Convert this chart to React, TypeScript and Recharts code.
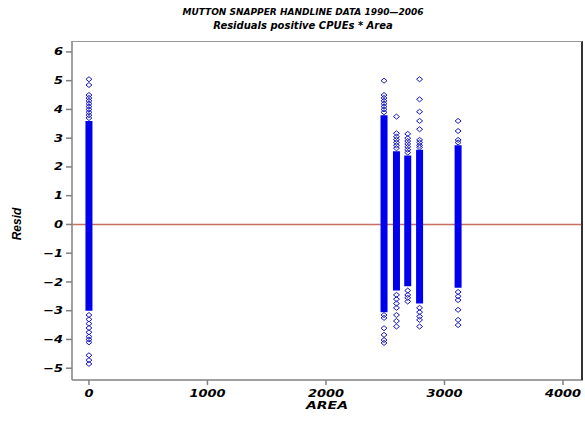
import React from "react";
import { ScatterChart, Scatter, XAxis, YAxis, ReferenceLine } from "recharts";

// Area codes (x positions of the residual columns)
const areaCodes = [0, 2490, 2595, 2690, 2790, 3115];
// Solid (densely packed) part of each column
const denseLow = [-3.0, -3.05, -2.3, -2.15, -2.75, -2.2];
const denseHigh = [3.6, 3.8, 2.55, 2.4, 2.6, 2.75];
// Individually visible residuals at the tails of each column
const sparseResid: number[][] = [
  [5.05, 4.85, 4.5, 4.4, 4.3, 4.2, 4.1, 4.0, 3.9, 3.8, 3.7, -3.15, -3.3, -3.45, -3.6, -3.75, -3.9, -4.0, -4.1, -4.55, -4.72, -4.85],
  [5.0, 4.5, 4.4, 4.3, 4.2, 4.1, 4.0, 3.9, -3.15, -3.25, -3.61, -3.84, -4.02, -4.12],
  [3.75, 3.17, 3.05, 2.95, 2.85, 2.75, 2.65, -2.45, -2.6, -2.75, -2.9, -3.15, -3.36, -3.55],
  [3.15, 3.0, 2.9, 2.8, 2.7, 2.6, 2.5, -2.3, -2.45, -2.55, -2.68],
  [5.05, 4.35, 3.92, 3.6, 3.31, 2.94, 2.85, 2.75, 2.68, -2.9, -3.05, -3.2, -3.32, -3.55],
  [3.6, 3.25, 2.94, 2.85, -2.35, -2.5, -2.63, -2.97, -3.32, -3.5],
];
const xTicks = [0, 1000, 2000, 3000, 4000];
const yTicks = [-5, -4, -3, -2, -1, 0, 1, 2, 3, 4, 5, 6];

const BLUE = "#0000ee";
const DIAMOND = "#1a1ac0";
const AXIS = "#808080";
const FONT = "'DejaVu Sans', sans-serif";

const denseSeries = areaCodes.map((a, i) => [
  { area: a, resid: denseLow[i] },
  { area: a, resid: denseHigh[i] },
]);
const sparseSeries = areaCodes.map((a, i) => sparseResid[i].map((r) => ({ area: a, resid: r })));

const fmt = (v: number) => (v < 0 ? "\u2212" + Math.abs(v) : String(v));

const XTick = (props: any) => {
  const { x, y, payload } = props;
  return (
    <text
      x={0}
      y={0}
      transform={`translate(${x},${y}) scale(1.3,1)`}
      dy="0.71em"
      textAnchor="middle"
      fontFamily={FONT}
      fontWeight="bold"
      fontStyle="italic"
      fontSize={10}
      fill="#000"
    >
      {fmt(payload.value)}
    </text>
  );
};

const YTick = (props: any) => {
  const { x, y, payload } = props;
  return (
    <text
      x={0}
      y={0}
      transform={`translate(${x},${y}) scale(1.3,1)`}
      dy="0.355em"
      textAnchor="end"
      fontFamily={FONT}
      fontWeight="bold"
      fontStyle="italic"
      fontSize={10}
      fill="#000"
    >
      {fmt(payload.value)}
    </text>
  );
};

const Diamond = (p: any) => {
  const { cx, cy } = p;
  if (cx == null || cy == null) return <g />;
  return (
    <path
      d={`M${cx},${cy - 2.5}L${cx + 3},${cy}L${cx},${cy + 2.5}L${cx - 3},${cy}Z`}
      fill="none"
      stroke={DIAMOND}
      strokeWidth={1}
    />
  );
};

const NoShape = () => <g />;

export default function App() {
  return (
    <div style={{ position: "absolute", left: 0, top: 0, width: 585, height: 421, background: "#fff", overflow: "hidden" }}>
      <ScatterChart width={585} height={421} margin={{ top: 41, right: 2, bottom: 0, left: 0 }}>
        <XAxis
          dataKey="area"
          type="number"
          domain={[-143, 4169]}
          ticks={xTicks}
          allowDataOverflow
          height={41}
          stroke={AXIS}
          strokeWidth={1.5}
          tickSize={5}
          tickMargin={5}
          tick={<XTick />}
          tickLine={{ stroke: AXIS }}
        />
        <YAxis
          dataKey="resid"
          type="number"
          domain={[-5.41, 6.38]}
          ticks={yTicks}
          allowDataOverflow
          width={72}
          stroke={AXIS}
          strokeWidth={1.5}
          tickSize={6}
          tickMargin={3}
          tick={<YTick />}
          tickLine={{ stroke: AXIS }}
        />
        <ReferenceLine y={0} stroke="#c8705f" strokeWidth={1.5} />
        {denseSeries.map((d, i) => (
          <Scatter
            key={"d" + i}
            data={d}
            shape={<NoShape />}
            line={{ stroke: BLUE, strokeWidth: 7 }}
            isAnimationActive={false}
          />
        ))}
        {sparseSeries.map((d, i) => (
          <Scatter key={"s" + i} data={d} shape={<Diamond />} isAnimationActive={false} />
        ))}
      </ScatterChart>
      <div
        style={{
          position: "absolute",
          left: 72,
          top: 41,
          width: 511,
          height: 339,
          boxSizing: "border-box",
          borderTop: "1px solid #999",
          borderRight: "2px solid #333",
          pointerEvents: "none",
        }}
      />
      <div
        style={{
          position: "absolute",
          left: 0,
          width: 606,
          top: 6,
          textAlign: "center",
          fontFamily: FONT,
          fontWeight: "bold",
          fontStyle: "italic",
          fontSize: 9,
          lineHeight: "13px",
          color: "#000",
        }}
      >
        <div>MUTTON SNAPPER HANDLINE DATA 1990—2006</div>
        <div style={{ fontSize: 10 }}>Residuals positive CPUEs * Area</div>
      </div>
      <div
        style={{
          position: "absolute",
          left: 327,
          top: 400,
          transform: "translateX(-50%) scaleX(1.4)",
          fontFamily: FONT,
          fontWeight: "bold",
          fontStyle: "italic",
          fontSize: 10,
          lineHeight: "11px",
          color: "#000",
        }}
      >
        AREA
      </div>
      <div
        style={{
          position: "absolute",
          left: 17,
          top: 224,
          transform: "translate(-50%, -50%) rotate(-90deg)",
          fontFamily: "'Liberation Sans', Arial, sans-serif",
          fontWeight: "bold",
          fontStyle: "italic",
          fontSize: 12,
          lineHeight: "12px",
          color: "#000",
          whiteSpace: "nowrap",
        }}
      >
        Resid
      </div>
    </div>
  );
}
